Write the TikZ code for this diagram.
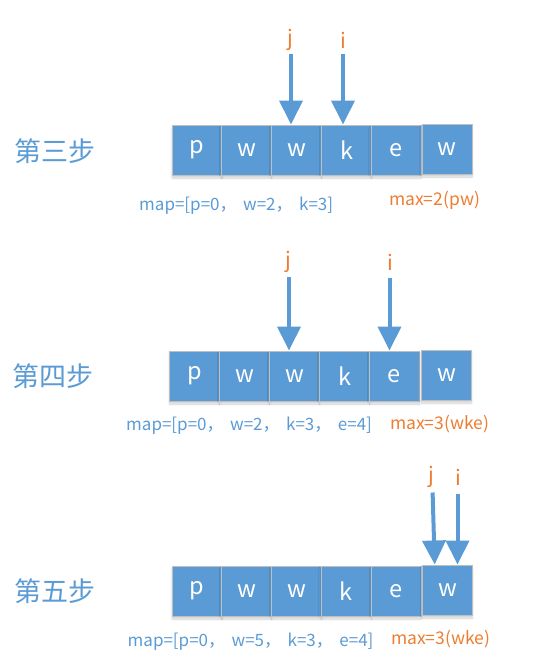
\documentclass[tikz,border=0pt]{standalone}
\usepackage{fontspec}
\setmainfont{Noto Sans CJK SC}
\usetikzlibrary{arrows.meta,shadows.blur}
\definecolor{bl}{HTML}{5B9BD5}
\definecolor{og}{HTML}{ED7D31}
\definecolor{gr}{HTML}{BFBFBF}
\tikzset{
  cell/.style={draw=gr, line width=1pt, fill=bl, minimum width=50pt, minimum height=50pt, inner sep=0pt, text=white, font=\fontsize{23.5}{23.5}\selectfont,
    blur shadow={shadow xshift=0pt, shadow yshift=-3pt, shadow blur steps=6, shadow opacity=18}},
  ptr/.style={draw=bl, line width=4pt, -{Triangle[width=23pt,length=24pt]}},
  ptrlab/.style={text=og, font=\fontsize{21}{21}\selectfont, inner sep=0pt},
  steplab/.style={text=bl, font=\fontsize{27}{27}\selectfont, inner sep=0pt},
  maplab/.style={text=bl, font=\fontsize{17}{17}\selectfont, inner sep=0pt, anchor=west},
  maxlab/.style={text=og, font=\fontsize{17.5}{17.5}\selectfont, inner sep=0pt, anchor=west}
}
\newcommand{\cm}{，\hspace{6.5pt}}
\begin{document}
\begin{tikzpicture}[x=1pt,y=-1pt]
\useasboundingbox (0,0) rectangle (533,664);
% ---------- step 3 ----------
\node[steplab] (s3) at (54.5,151) {第三步};
\node[cell] (a1) at (197,150) {p};
\node[cell] (a2) at (246.5,150) {w};
\node[cell] (a3) at (296.5,150) {w};
\node[cell] (a4) at (346.5,150) {k};
\node[cell] (a5) at (396,150) {e};
\node[cell] (a6) at (447,149) {w};
\node[ptrlab] (j3) at (290,40) {j};
\node[ptrlab] (i3) at (343,40) {i};
\coordinate (j3t) at (291,54);
\coordinate (i3t) at (343,54);
\draw[ptr] (j3t) -- (j3t |- a3.north);
\draw[ptr] (i3t) -- (i3t |- a4.north);
\node[maplab] (m3) at (139,206) {map=[p=0\cm w=2\cm k=3]};
\node[maxlab] (x3) at (389,200) {max=2(pw)};
% ---------- step 4 ----------
\node[steplab] (s4) at (53,376) {第四步};
\node[cell] (b1) at (194.5,376) {p};
\node[cell] (b2) at (244.5,376) {w};
\node[cell] (b3) at (294.5,376) {w};
\node[cell] (b4) at (344.5,376) {k};
\node[cell] (b5) at (394.5,376) {e};
\node[cell] (b6) at (446.5,375) {w};
\node[ptrlab] (j4) at (288,262) {j};
\node[ptrlab] (i4) at (390,262) {i};
\coordinate (j4t) at (289,277);
\coordinate (i4t) at (389.5,278);
\draw[ptr] (j4t) -- (j4t |- b3.north);
\draw[ptr] (i4t) -- (i4t |- b5.north);
\node[maplab] (m4) at (126,426) {map=[p=0\cm w=2\cm k=3\cm e=4]};
\node[maxlab] (x4) at (390,424) {max=3(wke)};
% ---------- step 5 ----------
\node[steplab] (s5) at (54.5,591) {第五步};
\node[cell] (c1) at (197,591) {p};
\node[cell] (c2) at (246.5,591) {w};
\node[cell] (c3) at (296.5,591) {w};
\node[cell] (c4) at (346,591) {k};
\node[cell] (c5) at (396.5,591) {e};
\node[cell] (c6) at (447.5,590) {w};
\node[ptrlab] (j5) at (431.5,477) {j};
\node[ptrlab] (i5) at (458.5,477) {i};
\coordinate (j5t) at (432.6,492.5);
\coordinate (i5t) at (457.5,494);
\draw[ptr] (j5t) -- (434.7,0 |- c6.north);
\draw[ptr] (i5t) -- (i5t |- c6.north);
\node[maplab] (m5) at (127.5,641.5) {map=[p=0\cm w=5\cm k=3\cm e=4]};
\node[maxlab] (x5) at (391,639.5) {max=3(wke)};
\end{tikzpicture}
\end{document}
